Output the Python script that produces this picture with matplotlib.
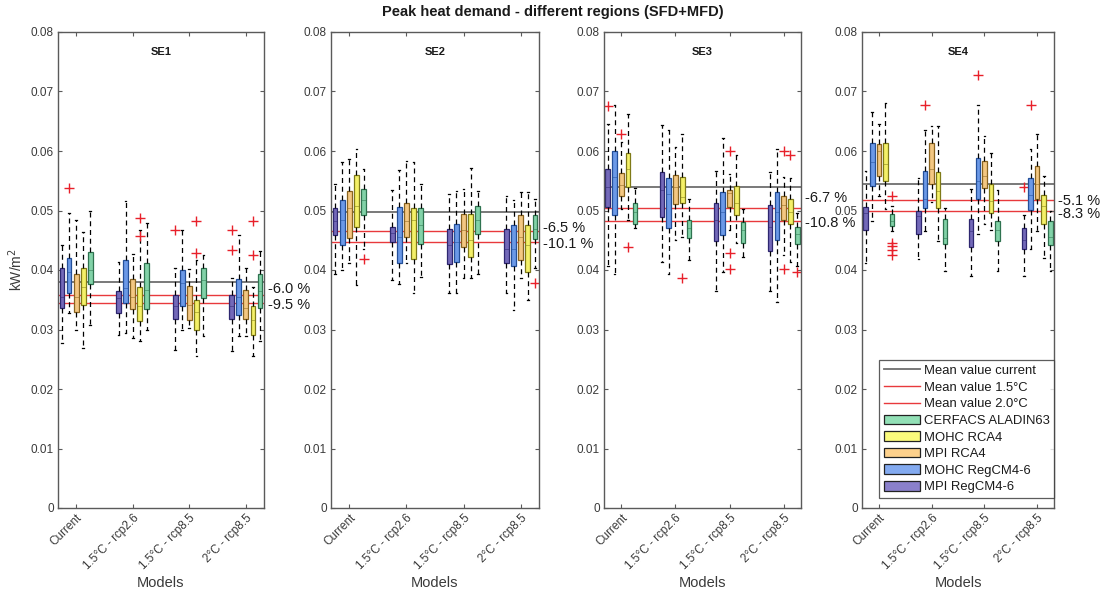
import matplotlib
matplotlib.use("Agg")
import matplotlib.pyplot as plt
from matplotlib.lines import Line2D
from matplotlib.patches import Patch

plt.rcParams['font.family'] = ['Liberation Sans', 'DejaVu Sans']

# ---------------- data ----------------
regions = ['SE1', 'SE2', 'SE3', 'SE4']
scenarios = ['Current', '1.5°C - rcp2.6', '1.5°C - rcp8.5', '2°C - rcp8.5']
models = ['MPI RegCM4-6', 'MOHC RegCM4-6', 'MPI RCA4', 'MOHC RCA4', 'CERFACS ALADIN63']

# rows: scenarios, columns: models (order as in `models`)
SE1_q3 = [[0.0404, 0.0421, 0.0394, 0.0404, 0.0431],
          [0.0365, 0.0416, 0.0385, 0.0372, 0.0411],
          [0.0358, 0.0400, 0.0373, 0.0350, 0.0404],
          [0.0358, 0.0385, 0.0367, 0.0340, 0.0393]]
SE1_med = [[0.0355, 0.0397, 0.0355, 0.0372, 0.0400],
           [0.0353, 0.0369, 0.0355, 0.0339, 0.0367],
           [0.0340, 0.0378, 0.0342, 0.0330, 0.0383],
           [0.0339, 0.0355, 0.0336, 0.0316, 0.0364]]
SE1_q1 = [[0.0336, 0.0361, 0.0330, 0.0341, 0.0376],
          [0.0328, 0.0345, 0.0335, 0.0315, 0.0334],
          [0.0318, 0.0340, 0.0316, 0.0299, 0.0353],
          [0.0318, 0.0325, 0.0318, 0.0290, 0.0336]]
SE1_lo = [[0.0277, 0.0328, 0.0300, 0.0269, 0.0308],
          [0.0291, 0.0294, 0.0286, 0.0280, 0.0300],
          [0.0266, 0.0300, 0.0302, 0.0255, 0.0289],
          [0.0264, 0.0289, 0.0289, 0.0255, 0.0280]]
SE1_hi = [[0.0442, 0.0496, 0.0484, 0.0464, 0.0499],
          [0.0414, 0.0516, 0.0427, 0.0467, 0.0479],
          [0.0403, 0.0467, 0.0401, 0.0417, 0.0425],
          [0.0386, 0.0458, 0.0403, 0.0372, 0.0432]]
SE1_out = [(0, 1, 0.0537), (1, 3, 0.0487), (1, 3, 0.0457), (2, 0, 0.0468),
           (2, 3, 0.0482), (2, 3, 0.0429), (3, 0, 0.0468), (3, 0, 0.0433),
           (3, 3, 0.0482), (3, 3, 0.0425)]

SE2_q3 = [[0.0504, 0.0518, 0.0532, 0.0560, 0.0536],
          [0.0473, 0.0506, 0.0512, 0.0504, 0.0504],
          [0.0469, 0.0477, 0.0494, 0.0494, 0.0507],
          [0.0469, 0.0475, 0.0493, 0.0475, 0.0492]]
SE2_med = [[0.0482, 0.0484, 0.0504, 0.0508, 0.0518],
           [0.0462, 0.0456, 0.0483, 0.0484, 0.0475],
           [0.0442, 0.0447, 0.0467, 0.0451, 0.0484],
           [0.0436, 0.0436, 0.0456, 0.0442, 0.0469]]
SE2_q1 = [[0.0459, 0.0442, 0.0453, 0.0472, 0.0492],
          [0.0447, 0.0411, 0.0456, 0.0419, 0.0444],
          [0.0410, 0.0414, 0.0438, 0.0422, 0.0460],
          [0.0411, 0.0406, 0.0417, 0.0397, 0.0452]]
SE2_lo = [[0.0394, 0.0400, 0.0411, 0.0375, 0.0436],
          [0.0383, 0.0377, 0.0411, 0.0361, 0.0389],
          [0.0361, 0.0362, 0.0386, 0.0386, 0.0394],
          [0.0361, 0.0333, 0.0386, 0.0350, 0.0403]]
SE2_hi = [[0.0544, 0.0581, 0.0586, 0.0603, 0.0569],
          [0.0534, 0.0568, 0.0584, 0.0581, 0.0544],
          [0.0527, 0.0533, 0.0536, 0.0572, 0.0533],
          [0.0525, 0.0517, 0.0531, 0.0531, 0.0519]]
SE2_out = [(0, 4, 0.0419), (3, 4, 0.0378)]

SE3_q3 = [[0.0570, 0.0600, 0.0563, 0.0596, 0.0512],
          [0.0565, 0.0554, 0.0559, 0.0556, 0.0484],
          [0.0512, 0.0531, 0.0535, 0.0542, 0.0481],
          [0.0509, 0.0531, 0.0525, 0.0520, 0.0473]]
SE3_med = [[0.0540, 0.0556, 0.0543, 0.0570, 0.0498],
           [0.0534, 0.0528, 0.0540, 0.0523, 0.0470],
           [0.0484, 0.0498, 0.0529, 0.0512, 0.0467],
           [0.0473, 0.0498, 0.0509, 0.0498, 0.0460]]
SE3_q1 = [[0.0506, 0.0492, 0.0524, 0.0540, 0.0478],
          [0.0489, 0.0471, 0.0511, 0.0512, 0.0454],
          [0.0449, 0.0459, 0.0506, 0.0492, 0.0446],
          [0.0432, 0.0450, 0.0484, 0.0478, 0.0443]]
SE3_lo = [[0.0406, 0.0394, 0.0503, 0.0484, 0.0470],
          [0.0414, 0.0394, 0.0450, 0.0456, 0.0417],
          [0.0364, 0.0397, 0.0467, 0.0445, 0.0422],
          [0.0364, 0.0347, 0.0425, 0.0414, 0.0406]]
SE3_hi = [[0.0646, 0.0678, 0.0615, 0.0663, 0.0537],
          [0.0643, 0.0636, 0.0607, 0.0629, 0.0520],
          [0.0567, 0.0622, 0.0561, 0.0593, 0.0503],
          [0.0565, 0.0604, 0.0556, 0.0554, 0.0495]]
SE3_out = [(0, 0, 0.0675), (0, 2, 0.0628), (0, 3, 0.0439), (1, 3, 0.0386),
           (2, 2, 0.0600), (2, 2, 0.0428), (2, 2, 0.0401), (3, 2, 0.0600),
           (3, 2, 0.0401), (3, 3, 0.0593), (3, 4, 0.0397)]

SE4_q3 = [[0.0506, 0.0614, 0.0611, 0.0614, 0.0494],
          [0.0500, 0.0566, 0.0613, 0.0564, 0.0485],
          [0.0485, 0.0588, 0.0584, 0.0544, 0.0483],
          [0.0470, 0.0555, 0.0575, 0.0526, 0.0482]]
SE4_med = [[0.0496, 0.0582, 0.0600, 0.0578, 0.0483],
           [0.0491, 0.0519, 0.0569, 0.0533, 0.0454],
           [0.0466, 0.0550, 0.0558, 0.0516, 0.0468],
           [0.0450, 0.0526, 0.0544, 0.0508, 0.0455]]
SE4_q1 = [[0.0467, 0.0541, 0.0558, 0.0550, 0.0474],
          [0.0460, 0.0505, 0.0545, 0.0505, 0.0443],
          [0.0439, 0.0519, 0.0538, 0.0495, 0.0449],
          [0.0436, 0.0501, 0.0519, 0.0477, 0.0442]]
SE4_lo = [[0.0412, 0.0482, 0.0524, 0.0502, 0.0466],
          [0.0418, 0.0466, 0.0515, 0.0449, 0.0398],
          [0.0390, 0.0460, 0.0477, 0.0468, 0.0398],
          [0.0390, 0.0435, 0.0466, 0.0421, 0.0399]]
SE4_hi = [[0.0566, 0.0666, 0.0645, 0.0681, 0.0508],
          [0.0555, 0.0636, 0.0642, 0.0642, 0.0505],
          [0.0536, 0.0678, 0.0625, 0.0597, 0.0534],
          [0.0492, 0.0603, 0.0628, 0.0558, 0.0499]]
SE4_out = [(0, 4, 0.0524), (0, 4, 0.0446), (0, 4, 0.0440), (0, 4, 0.0433),
           (0, 4, 0.0426), (1, 1, 0.0677), (2, 1, 0.0727), (3, 0, 0.0540),
           (3, 1, 0.0677)]

mean_current = [0.0380, 0.0497, 0.0540, 0.0545]
mean_15 = [0.0358, 0.0465, 0.0504, 0.0517]
mean_20 = [0.0344, 0.0447, 0.0482, 0.0499]
pct_15 = ['-6.0 %', '-6.5 %', '-6.7 %', '-5.1 %']
pct_20 = ['-9.5 %', '-10.1 %', '-10.8 %', '-8.3 %']

yticks = [0, 0.01, 0.02, 0.03, 0.04, 0.05, 0.06, 0.07, 0.08]

# ---------------- style ----------------
box_face = ['#7369b9', '#6b99e7', '#f3c782', '#f4f068', '#82d2a8']
box_edge = ['#2e2770', '#24509a', '#8a6420', '#7f7a18', '#2f7350']
leg_face = ['#8a80cb', '#83aaf0', '#fdd18c', '#fafa7c', '#92e0b6']
offsets = [-0.25, -0.125, 0.0, 0.125, 0.25]
spine_col = '#5a5a5a'
text_col = '#3a3a3a'

W, H = 1107, 594
fig = plt.figure(figsize=(W / 100, H / 100), dpi=100)
panel_px = [(58, 206), (331, 208), (604, 197), (862, 192)]
top_px, bot_px = 32, 508
lab_off1 = [6, 3, 10, -1]
lab_off2 = [-2, -2, -2, -3]

all_data = {
    'SE1': (SE1_q1, SE1_med, SE1_q3, SE1_lo, SE1_hi, SE1_out),
    'SE2': (SE2_q1, SE2_med, SE2_q3, SE2_lo, SE2_hi, SE2_out),
    'SE3': (SE3_q1, SE3_med, SE3_q3, SE3_lo, SE3_hi, SE3_out),
    'SE4': (SE4_q1, SE4_med, SE4_q3, SE4_lo, SE4_hi, SE4_out),
}

axes = []
for r, reg in enumerate(regions):
    lx, wx = panel_px[r]
    ax = fig.add_axes([lx / W, (H - bot_px) / H, wx / W, (bot_px - top_px) / H])
    axes.append(ax)
    q1, med, q3, lo, hi, out = all_data[reg]
    # mean lines
    ax.axhline(mean_current[r], color='#6e6e6e', lw=1.3, zorder=1)
    ax.axhline(mean_15[r], color='#e8393c', lw=1.0, zorder=1)
    ax.axhline(mean_20[r], color='#e8393c', lw=1.0, zorder=1)
    for m in range(len(models)):
        stats, pos = [], []
        for s in range(len(scenarios)):
            fl = [v for (ss, mm, v) in out if ss == s and mm == m]
            stats.append(dict(q1=q1[s][m], med=med[s][m], q3=q3[s][m],
                              whislo=lo[s][m], whishi=hi[s][m], fliers=fl))
            pos.append(s + 1 + offsets[m])
        ax.bxp(stats, positions=pos, widths=0.085, patch_artist=True,
               showfliers=True, capwidths=0.03, manage_ticks=False,
               boxprops=dict(facecolor=box_face[m], edgecolor=box_edge[m], lw=0.9),
               medianprops=dict(color=box_edge[m], lw=0.6, alpha=0.6),
               whiskerprops=dict(color='black', lw=0.9, linestyle=(0, (4, 3))),
               capprops=dict(color='black', lw=0.9),
               flierprops=dict(marker='+', markeredgecolor='#e8202a', markersize=7,
                               markeredgewidth=1.0, linestyle='none'))
    ax.set_xlim(0.68, 4.32)
    ax.set_ylim(0, 0.08)
    ax.set_yticks(yticks)
    ax.set_yticklabels(['0' if v == 0 else f'{v:.2f}' for v in yticks])
    ax.set_xticks(range(1, len(scenarios) + 1))
    ax.set_xticklabels(scenarios, rotation=45, ha='right', rotation_mode='anchor')
    ax.tick_params(direction='in', top=True, right=True, length=3, width=0.8,
                   colors=spine_col, labelcolor=text_col, labelsize=8.5, pad=3)
    for sp in ax.spines.values():
        sp.set_color(spine_col)
        sp.set_linewidth(1.0)
    ax.set_xlabel('Models', fontsize=10.5, color=text_col, labelpad=3)
    ax.text(0.5, 0.958, reg, transform=ax.transAxes, ha='center', va='center',
            fontsize=8, fontweight='bold', color='#1a1a1a')
    ax.annotate(pct_15[r], xy=(1, mean_15[r]), xycoords=('axes fraction', 'data'),
                xytext=(4, lab_off1[r]), textcoords='offset pixels',
                ha='left', va='center', fontsize=10.5, color='#1a1a1a',
                annotation_clip=False)
    ax.annotate(pct_20[r], xy=(1, mean_20[r]), xycoords=('axes fraction', 'data'),
                xytext=(4, lab_off2[r]), textcoords='offset pixels',
                ha='left', va='center', fontsize=10.5, color='#1a1a1a',
                annotation_clip=False)

axes[0].set_ylabel('kW/m$^2$', fontsize=10, color=text_col, labelpad=4)

fig.text(553 / W, 1 - 12 / H, 'Peak heat demand - different regions (SFD+MFD)',
         ha='center', va='center', fontsize=10.5, fontweight='bold', color='#1a1a1a')

handles = [Line2D([], [], color='#6e6e6e', lw=1.3),
           Line2D([], [], color='#e8393c', lw=1.0),
           Line2D([], [], color='#e8393c', lw=1.0)]
labels = ['Mean value current', 'Mean value 1.5°C', 'Mean value 2.0°C']
for m in reversed(range(len(models))):
    handles.append(Patch(facecolor=leg_face[m], edgecolor='#222222', lw=0.9))
    labels.append(models[m])
leg = fig.legend(handles, labels, loc='lower right',
                 bbox_to_anchor=(1054 / W, (H - 498) / H), fontsize=9.4,
                 frameon=True, fancybox=False, handlelength=2.75, handleheight=0.75,
                 labelspacing=0.33, borderpad=0.35, handletextpad=0.3,
                 borderaxespad=0)
leg.get_frame().set_edgecolor('#333333')
leg.get_frame().set_linewidth(0.9)
for t in leg.get_texts():
    t.set_color('#1a1a1a')

fig.savefig('out.png', dpi=100, facecolor='white')
